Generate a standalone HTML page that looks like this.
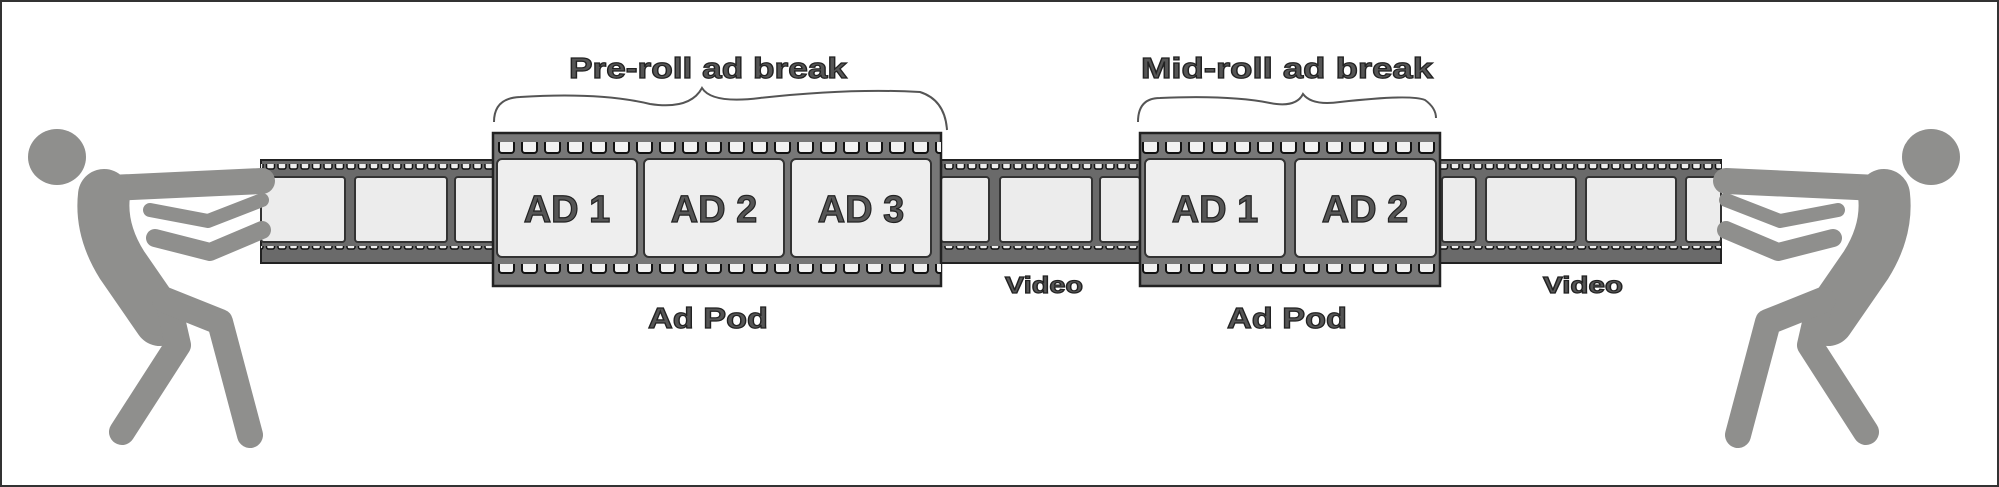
<!DOCTYPE html>
<html><head><meta charset="utf-8"><style>
html,body{margin:0;padding:0;background:#fff;}
svg{display:block;}
text{font-family:"Liberation Sans",sans-serif;font-weight:bold;fill:#555;stroke:#222;stroke-width:1.2;}
</style></head><body>
<svg width="1999" height="487" viewBox="0 0 1999 487" xmlns="http://www.w3.org/2000/svg">
<defs>
<pattern id="hs" x="0" y="0" width="11.5" height="20" patternUnits="userSpaceOnUse">
<rect x="2" y="0" width="8" height="9" rx="2" fill="#eee" stroke="#111" stroke-width="1.5"/>
</pattern>
<pattern id="hp" x="497" y="0" width="23" height="20" patternUnits="userSpaceOnUse">
<rect x="2" y="0" width="15" height="13" rx="3" fill="#f2f2f2" stroke="#111" stroke-width="2"/>
</pattern>
<g id="man" fill="none" stroke="#8f8f8d" stroke-linecap="round" stroke-linejoin="round">
<ellipse cx="57" cy="157" rx="29" ry="28" fill="#8f8f8d" stroke="none"/>
<path d="M110 188 L262 181" stroke-width="26"/>
<path d="M104 195 Q100 230 122 265 L160 320" stroke-width="52"/>
<path d="M150 210 L208 221 L262 200" stroke-width="14"/>
<path d="M155 238 L210 252 L262 230" stroke-width="18"/>
<path d="M170 310 L178 345 L122 432" stroke-width="26"/>
<path d="M165 300 L220 322 L250 435" stroke-width="26"/>
</g>
</defs>
<rect x="1" y="1" width="1997" height="485" fill="#fff" stroke="#333" stroke-width="2"/>

<!-- thin strips -->
<g>
<rect x="261" y="160" width="236" height="103" fill="#6a6a6a" stroke="#222" stroke-width="2"/>
<rect x="939" y="160" width="203" height="103" fill="#6a6a6a" stroke="#222" stroke-width="2"/>
<rect x="1438" y="160" width="283" height="103" fill="#6a6a6a" stroke="#222" stroke-width="2"/>
<rect x="261" y="164" width="236" height="9" fill="url(#hs)"/>
<rect x="261" y="246" width="236" height="9" fill="url(#hs)"/>
<rect x="939" y="164" width="203" height="9" fill="url(#hs)"/>
<rect x="939" y="246" width="203" height="9" fill="url(#hs)"/>
<rect x="1438" y="164" width="283" height="9" fill="url(#hs)"/>
<rect x="1438" y="246" width="283" height="9" fill="url(#hs)"/>
<g fill="#ececec" stroke="#333" stroke-width="2">
<rect x="261" y="177" width="84" height="65" rx="3"/>
<rect x="355" y="177" width="92" height="65" rx="3"/>
<rect x="455" y="177" width="40" height="65" rx="3"/>
<rect x="941" y="177" width="48" height="65" rx="3"/>
<rect x="1000" y="177" width="92" height="65" rx="3"/>
<rect x="1100" y="177" width="40" height="65" rx="3"/>
<rect x="1442" y="177" width="34" height="65" rx="3"/>
<rect x="1486" y="177" width="90" height="65" rx="3"/>
<rect x="1586" y="177" width="90" height="65" rx="3"/>
<rect x="1686" y="177" width="35" height="65" rx="3"/>
</g>
</g>

<!-- pods -->
<rect x="493" y="133" width="448" height="153" fill="#777" stroke="#222" stroke-width="2.5"/>
<rect x="1140" y="133" width="300" height="153" fill="#777" stroke="#222" stroke-width="2.5"/>
<rect x="493" y="142" width="448" height="14" fill="url(#hp)"/>
<rect x="493" y="264" width="448" height="14" fill="url(#hp)"/>
<rect x="1140" y="142" width="300" height="14" fill="url(#hp)"/>
<rect x="1140" y="264" width="300" height="14" fill="url(#hp)"/>
<g fill="#eeeeee" stroke="#333" stroke-width="2">
<rect x="497" y="159" width="140" height="98" rx="5"/>
<rect x="644" y="159" width="140" height="98" rx="5"/>
<rect x="791" y="159" width="140" height="98" rx="5"/>
<rect x="1145" y="159" width="140" height="98" rx="5"/>
<rect x="1295" y="159" width="141" height="98" rx="5"/>
</g>
<g font-size="38" text-anchor="middle">
<text x="567" y="222">AD 1</text>
<text x="714" y="222">AD 2</text>
<text x="861" y="222">AD 3</text>
<text x="1215" y="222">AD 1</text>
<text x="1365" y="222">AD 2</text>
</g>

<!-- braces -->
<g fill="none" stroke="#555" stroke-width="2">
<path d="M494 122 Q494 98 520 97 Q600 92 650 104 Q690 110 702 88 Q712 104 760 98 Q850 88 920 92 Q945 100 947 130"/>
<path d="M1138 122 Q1138 98 1160 98 Q1230 95 1270 103 Q1296 108 1303 94 Q1312 106 1340 102 Q1410 94 1425 100 Q1436 108 1436 118"/>
</g>

<g font-size="29" text-anchor="middle">
<text x="708" y="78" textLength="278" lengthAdjust="spacingAndGlyphs">Pre-roll ad break</text>
<text x="1287" y="78" textLength="292" lengthAdjust="spacingAndGlyphs">Mid-roll ad break</text>
<text x="708" y="328" textLength="120" lengthAdjust="spacingAndGlyphs">Ad Pod</text>
<text x="1287" y="328" textLength="120" lengthAdjust="spacingAndGlyphs">Ad Pod</text>
</g>
<g font-size="23" text-anchor="middle">
<text x="1044" y="293" textLength="78" lengthAdjust="spacingAndGlyphs">Video</text>
<text x="1583" y="293" textLength="80" lengthAdjust="spacingAndGlyphs">Video</text>
</g>

<use href="#man"/>
<use href="#man" transform="translate(1988,0) scale(-1,1)"/>
</svg>
</body></html>
